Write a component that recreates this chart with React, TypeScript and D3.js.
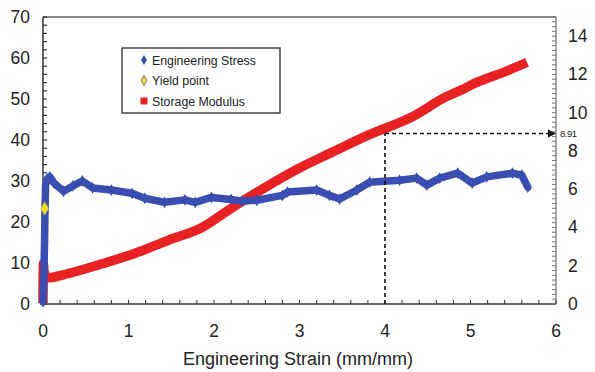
import React from "react";
import * as d3 from "d3";

// Engineering stress (left axis, 0-70)
const stressStrain = [0, 0.005, 0.01, 0.012, 0.015, 0.018, 0.02, 0.022, 0.025, 0.028, 0.03, 0.05, 0.08, 0.13, 0.24, 0.35, 0.46, 0.58, 0.8, 1.04, 1.19, 1.42, 1.66, 1.78, 1.97, 2.2, 2.33, 2.5, 2.8, 2.86, 3.2, 3.35, 3.47, 3.67, 3.82, 4.17, 4.37, 4.49, 4.64, 4.85, 5.02, 5.19, 5.49, 5.6, 5.67];
const stressValues = [0.5, 3, 6, 9, 12, 15, 18, 21, 24, 27, 29, 30.5, 31, 29.5, 27.5, 28.8, 30, 28.3, 27.8, 27, 25.8, 24.8, 25.4, 24.8, 26, 25.5, 25.1, 25.3, 26.5, 27.3, 27.8, 26.5, 25.6, 27.8, 29.7, 30.2, 30.7, 29, 30.7, 31.9, 29.5, 31, 31.9, 31.4, 28.5];

// Yield point
const yieldStrain = [0.02];
const yieldStress = [23.3];

// Storage modulus (right axis, 0-15)
const modulusStrain = [0, 0.004, 0.01, 0.03, 0.06, 0.29, 0.69, 1.07, 1.46, 1.86, 2.22, 2.6, 3.0, 3.39, 3.79, 4.32, 4.72, 4.85, 5.1, 5.42, 5.61];
const modulusValues = [0.3, 2.1, 1.8, 1.45, 1.37, 1.59, 2.1, 2.64, 3.32, 4.0, 5.06, 6.1, 7.11, 7.95, 8.8, 9.79, 10.84, 11.1, 11.63, 12.17, 12.53];

const xTicks = [0, 1, 2, 3, 4, 5, 6];
const yLeftTicks = [0, 10, 20, 30, 40, 50, 60, 70];
const yRightTicks = [0, 2, 4, 6, 8, 10, 12, 14];
const markStrain = 4;
const markModulus = 8.91;
const markLabel = "8.91";

const legendItems = ["Engineering Stress", "Yield point", "Storage Modulus"];

const W = 595, H = 372;
const L = 43, R = 556, T = 17, B = 304;
const BLUE = "#3a4db0";
const RED = "#e82222";
const FONT = "'Liberation Sans', Arial, sans-serif";

export default function App() {
  const x = d3.scaleLinear().domain([0, 6]).range([L, R]);
  const yL = d3.scaleLinear().domain([0, 70]).range([B, T]);
  const yR = d3.scaleLinear().domain([0, 15]).range([B, T]);

  const stressPts: [number, number][] = stressStrain.map((s, i) => [x(s), yL(stressValues[i])]);
  const modPts: [number, number][] = modulusStrain.map((s, i) => [x(s), yR(modulusValues[i])]);
  const line = d3.line();
  const smooth = d3.line().curve(d3.curveMonotoneX);
  const diamond = d3.symbol().type(d3.symbolDiamond).size(40)() as string;
  const diamondY = d3.symbol().type(d3.symbolDiamond).size(50)() as string;
  const diamondSm = d3.symbol().type(d3.symbolDiamond).size(30)() as string;

  const xMinor = d3.range(0, 6.0001, 0.2);
  const yLMinor = d3.range(0, 70.001, 2);
  const yRMinor = d3.range(0, 15.001, 0.25);

  const mx = x(markStrain), my = yR(markModulus);

  return (
    <svg width={W} height={H} style={{ position: "absolute", left: 0, top: 0 }} fontFamily={FONT}>
      <rect width={W} height={H} fill="#fff" />
      {/* frame */}
      <line x1={L} x2={R} y1={T} y2={T} stroke="#666" strokeWidth={1.5} />
      <line x1={R} x2={R} y1={T} y2={B} stroke="#888" strokeWidth={1.5} />
      <line x1={L} x2={L} y1={T} y2={B} stroke="#333" strokeWidth={1.5} />
      <line x1={L} x2={R} y1={B} y2={B} stroke="#333" strokeWidth={1.5} />
      {/* ticks */}
      {xMinor.map((v, i) => (
        <line key={"xm" + i} x1={x(v)} x2={x(v)} y1={B} y2={B - 4} stroke="#333" strokeWidth={1} />
      ))}
      {yLMinor.map((v, i) => (
        <line key={"ylm" + i} x1={L} x2={L + 4} y1={yL(v)} y2={yL(v)} stroke="#333" strokeWidth={1.2} />
      ))}
      {yRMinor.map((v, i) => (
        <line key={"yrm" + i} x1={R} x2={R - 4} y1={yR(v)} y2={yR(v)} stroke="#777" strokeWidth={1} />
      ))}
      {/* tick labels */}
      {xTicks.map((v) => (
        <text key={"xt" + v} x={x(v)} y={337} textAnchor="middle" fontSize={17.5} fill="#222">{v}</text>
      ))}
      {yLeftTicks.map((v) => (
        <text key={"ylt" + v} x={30} y={yL(v) + 6} textAnchor="end" fontSize={17.5} fill="#222">{v}</text>
      ))}
      {yRightTicks.map((v) => (
        <text key={"yrt" + v} x={568} y={yR(v) + 6} textAnchor="start" fontSize={17.5} fill="#222">{v}</text>
      ))}
      <text x={298} y={365} textAnchor="middle" fontSize={18} fill="#222">Engineering Strain (mm/mm)</text>

      {/* data: storage modulus */}
      <path d={smooth(modPts) || ""} fill="none" stroke={RED} strokeWidth={9.5} strokeLinejoin="round" strokeLinecap="square" />
      {/* data: stress */}
      <path d={line(stressPts) || ""} fill="none" stroke={BLUE} strokeWidth={7.5} strokeLinejoin="round" strokeLinecap="round" />
      {stressPts.map((p, i) => (
        <path key={"sd" + i} d={diamond} transform={`translate(${p[0]},${p[1]})`} fill={BLUE} />
      ))}
      {yieldStrain.map((s, i) => (
        <path key={"yp" + i} d={diamondY} transform={`translate(${x(s)},${yL(yieldStress[i])})`} fill="#f0e020" stroke="#c8b040" strokeWidth={0.8} />
      ))}

      {/* dashed guide */}
      <line x1={mx} x2={mx} y1={B} y2={my} stroke="#111" strokeWidth={1.6} strokeDasharray="4,3" />
      <line x1={mx} x2={R - 6} y1={my} y2={my} stroke="#111" strokeWidth={1.6} strokeDasharray="4,3" />
      <path d={`M${R - 8},${my - 4} L${R},${my} L${R - 8},${my + 4} Z`} fill="#111" />
      <text x={560} y={my + 3} fontSize={9.5} fill="#222" letterSpacing={-0.5}>{markLabel}</text>

      {/* legend */}
      <rect x={122} y={48} width={158} height={65} fill="#fff" stroke="#444" strokeWidth={1.5} />
      {legendItems.map((t, i) => {
        const cy = 60 + i * 20.5;
        return (
          <g key={t}>
            {i === 0 && <path d={diamondSm} transform={`translate(144,${cy})`} fill={BLUE} />}
            {i === 1 && <path d={diamondSm} transform={`translate(144,${cy})`} fill="#f0e020" stroke="#7a6aa0" strokeWidth={1} />}
            {i === 2 && <rect x={140.5} y={cy - 3.5} width={7} height={7} fill={RED} />}
            <text x={152} y={cy + 4.5} fontSize={12.3} fill="#222">{t}</text>
          </g>
        );
      })}
    </svg>
  );
}
